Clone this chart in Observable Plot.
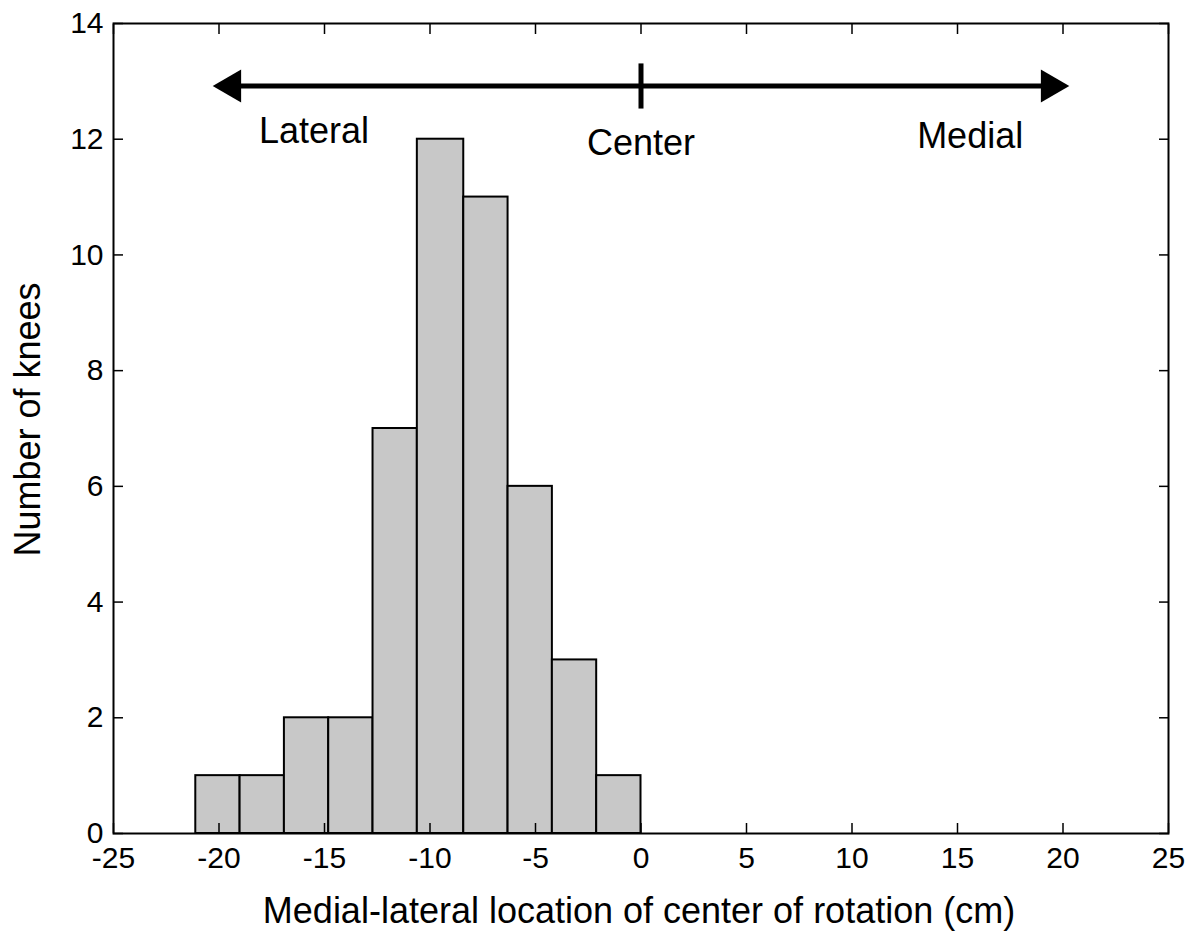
<!DOCTYPE html>
<html>
<head>
<meta charset="utf-8">
<script src="https://cdn.jsdelivr.net/npm/d3@7"></script>
<script src="https://cdn.jsdelivr.net/npm/@observablehq/plot@0.6"></script>
<style>
  html, body { margin: 0; padding: 0; background: #fff; }
</style>
</head>
<body>
<div id="chart"></div>
<script>
// Histogram bins (cm) and counts
const binStart = [-21.1, -19.0, -16.9, -14.8, -12.7, -10.6, -8.4, -6.3, -4.2, -2.1];
const binEnd   = [-19.0, -16.9, -14.8, -12.7, -10.6, -8.4, -6.3, -4.2, -2.1, 0.0];
const counts   = [1, 1, 2, 2, 7, 12, 11, 6, 3, 1];

// Axis ticks
const xTicks = [-25, -20, -15, -10, -5, 0, 5, 10, 15, 20, 25];
const yTicks = [0, 2, 4, 6, 8, 10, 12, 14];

// Direction annotation
const arrowEnds = [-20.3, 20.3];
const arrowLevel = 12.92;
const centerTick = [12.53, 13.31];
const annLabels = ["Lateral", "Center", "Medial"];
const annX = [-15.5, 0, 15.6];
const annY = [11.93, 11.72, 11.84];

const xLabel = "Medial-lateral location of center of rotation (cm)";
const yLabel = "Number of knees";

const bins = binStart.map((s, i) => ({x1: s, x2: binEnd[i], y: counts[i]}));
const ann = annLabels.map((t, i) => ({t, x: annX[i], y: annY[i]}));
const fmt = (d) => String(d);

const chart = Plot.plot({
  width: 1200,
  height: 933,
  marginLeft: 113,
  marginRight: 32,
  marginTop: 23,
  marginBottom: 100,
  style: {fontFamily: "'Liberation Sans', Arial, sans-serif", background: "#fff", color: "#000"},
  x: {domain: [-25, 25]},
  y: {domain: [0, 14]},
  marks: [
    Plot.rectY(bins, {x1: "x1", x2: "x2", y: "y", fill: "#c8c8c8", stroke: "#000", strokeWidth: 2}),
    // inward ticks on all four sides
    Plot.axisX({anchor: "bottom", ticks: xTicks, tickSize: 10, dy: -10, tickFormat: () => "", label: null, strokeWidth: 1.5}),
    Plot.axisX({anchor: "top", ticks: xTicks, tickSize: 10, dy: 10, tickFormat: () => "", label: null, strokeWidth: 1.5}),
    Plot.axisY({anchor: "left", ticks: yTicks, tickSize: 10, dx: 10, tickFormat: () => "", label: null, strokeWidth: 1.5}),
    Plot.axisY({anchor: "right", ticks: yTicks, tickSize: 10, dx: -10, tickFormat: () => "", label: null, strokeWidth: 1.5}),
    // tick labels
    Plot.axisX({anchor: "bottom", ticks: xTicks, tickSize: 0, tickPadding: 13, fontSize: 30, tickFormat: fmt, label: null}),
    Plot.axisY({anchor: "left", ticks: yTicks, tickSize: 0, tickPadding: 10, fontSize: 30, tickFormat: fmt, label: null}),
    Plot.frame({stroke: "#000", strokeWidth: 2}),
    // direction arrow
    Plot.link([{x1: arrowEnds[0], x2: arrowEnds[1], y: arrowLevel}], {x1: (d) => d.x1 + 1, x2: (d) => d.x2 - 1, y1: "y", y2: "y", stroke: "#000", strokeWidth: 5}),
    Plot.dot([arrowEnds[0]], {x: (d) => d, y: () => arrowLevel, dx: 19, symbol: "triangle", r: 12.2, rotate: -90, fill: "#000", stroke: null}),
    Plot.dot([arrowEnds[1]], {x: (d) => d, y: () => arrowLevel, dx: -19, symbol: "triangle", r: 12.2, rotate: 90, fill: "#000", stroke: null}),
    Plot.link([{x: 0, y1: centerTick[0], y2: centerTick[1]}], {x1: "x", x2: "x", y1: "y1", y2: "y2", stroke: "#000", strokeWidth: 5}),
    Plot.text(ann, {x: "x", y: "y", text: "t", fontSize: 36, lineAnchor: "bottom", fill: "#000"}),
    // axis titles
    Plot.text([yLabel], {frameAnchor: "left", text: (d) => d, rotate: -90, textAnchor: "middle", dx: -85, dy: -9, fontSize: 36, fill: "#000"}),
    Plot.text([xLabel], {frameAnchor: "bottom", text: (d) => d, textAnchor: "middle", dx: -2, dy: 89, lineAnchor: "bottom", fontSize: 36, fill: "#000"})
  ]
});
document.getElementById("chart").appendChild(chart);
</script>
</body>
</html>
